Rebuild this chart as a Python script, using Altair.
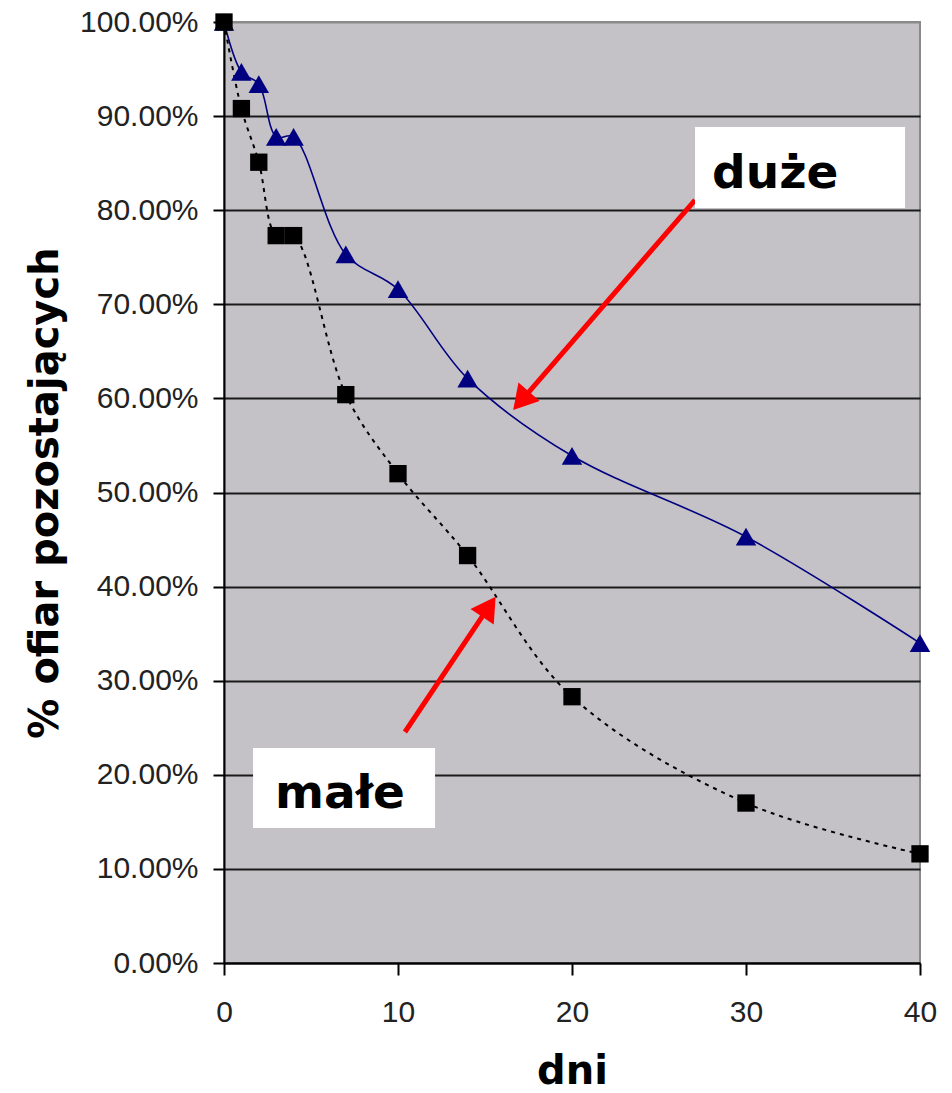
import math
import altair as alt
import pandas as pd

# ---- data ----
days = [0, 1, 2, 3, 4, 7, 10, 14, 20, 30, 40]
duze = [100, 94.7, 93.4, 87.8, 87.8, 75.3, 71.6, 62.1, 53.9, 45.3, 34.0]
male = [100, 90.8, 85.1, 77.3, 77.3, 60.4, 52.0, 43.3, 28.3, 17.0, 11.6]

y_ticks = [0, 10, 20, 30, 40, 50, 60, 70, 80, 90, 100]
x_ticks = [0, 10, 20, 30, 40]

# annotation labels (boxes in data units: x from/to, y from/to in %)
label_text = ["duże", "małe"]
box_x1 = [27.07, 1.67]
box_x2 = [39.14, 12.13]
box_y1 = [80.23, 14.35]
box_y2 = [88.84, 22.85]
text_x = [28.05, 2.93]
text_y = [82.36, 16.47]
# arrows (start -> tip) in data units
arrow_x1 = [27.07, 10.40]
arrow_y1 = [81.08, 24.55]
arrow_x2 = [16.55, 15.67]
arrow_y2 = [58.61, 39.10]

W, H = 696, 941
XMAX, YMAX = 40.0, 100.0
HEAD = 28  # arrow head side in px

df_d = pd.DataFrame({"dni": days, "val": [v / 100 for v in duze]})
df_m = pd.DataFrame({"dni": days, "val": [v / 100 for v in male]})

df_box = pd.DataFrame({
    "dni": box_x1, "dni2": box_x2,
    "val": [v / 100 for v in box_y1], "val2": [v / 100 for v in box_y2],
})
df_txt = pd.DataFrame({"dni": text_x, "val": [v / 100 for v in text_y], "t": label_text})

px_x = W / XMAX
px_y = H / YMAX
rows_line, rows_head = [], []
for x1, y1, x2, y2 in zip(arrow_x1, arrow_y1, arrow_x2, arrow_y2):
    dxp = (x2 - x1) * px_x
    dyp = -(y2 - y1) * px_y
    n = math.hypot(dxp, dyp)
    ux, uy = dxp / n, dyp / n
    ang = math.degrees(math.atan2(ux, -uy)) % 360
    r = HEAD / 2
    cx = x2 - r * ux / px_x
    cy = y2 + r * uy / px_y
    rows_line.append({"dni": x1, "val": y1 / 100, "dni2": cx, "val2": cy / 100})
    rows_head.append({"dni": cx, "val": cy / 100, "ang": ang})
df_al = pd.DataFrame(rows_line)
df_ah = pd.DataFrame(rows_head)

x_enc = alt.X(
    "dni:Q",
    scale=alt.Scale(domain=[0, 40], nice=False, zero=False),
    axis=alt.Axis(values=x_ticks, title="dni", grid=False, format="d", labelFlush=False,
                  tickSize=12, labelPadding=22, titlePadding=24),
)
y_enc = alt.Y(
    "val:Q",
    scale=alt.Scale(domain=[0, 1], nice=False),
    axis=alt.Axis(values=[v / 100 for v in y_ticks], format=".2%", labelFlush=False,
                  title="% ofiar pozostających", grid=True,
                  gridColor={"condition": {"test": "datum.value >= 1", "value": "#8a8a8a"},
                             "value": "#1a1a1a"},
                  gridWidth=2, tickSize=11, labelPadding=15, titlePadding=14),
)

line_d = alt.Chart(df_d).mark_line(color="#000080", strokeWidth=1.6,
                                   interpolate="catmull-rom").encode(x=x_enc, y=y_enc)
line_m = alt.Chart(df_m).mark_line(color="#000000", strokeWidth=2, strokeDash=[4, 5],
                                   interpolate="catmull-rom").encode(x=x_enc, y=y_enc)
pts_d = alt.Chart(df_d).mark_point(shape="triangle-up", filled=True, opacity=1,
                                   color="#000080", size=420).encode(x=x_enc, y=y_enc)
pts_m = alt.Chart(df_m).mark_point(shape="square", filled=True, opacity=1,
                                   color="#000000", size=300).encode(x=x_enc, y=y_enc)

arr_line = alt.Chart(df_al).mark_rule(color="#ff0000", strokeWidth=5).encode(
    x=x_enc, y=y_enc, x2="dni2:Q", y2="val2:Q")
arr_head = alt.Chart(df_ah).mark_point(shape="triangle-up", filled=True, opacity=1,
                                       color="#ff0000", size=HEAD * HEAD).encode(
    x=x_enc, y=y_enc, angle=alt.Angle("ang:Q", scale=None))

boxes = alt.Chart(df_box).mark_rect(color="white", opacity=1).encode(
    x=x_enc, y=y_enc, x2="dni2:Q", y2="val2:Q")
texts = alt.Chart(df_txt).mark_text(font="DejaVu Sans", fontWeight="bold", fontSize=47,
                                    align="left", baseline="alphabetic",
                                    color="black").encode(x=x_enc, y=y_enc, text="t:N")

chart = alt.layer(line_d, line_m, pts_d, pts_m, arr_line, arr_head, boxes, texts).properties(
    width=W, height=H,
    autosize=alt.AutoSizeParams(type="none"),
    padding={"left": 224, "top": 22, "right": 32, "bottom": 130},
    background="white",
).configure_view(
    fill="#C4C2C6", stroke="#8a8a8a", strokeWidth=2,
).configure_axis(
    labelFont="Liberation Sans", labelFontSize=30, labelColor="#222222",
    titleFont="DejaVu Sans", titleFontSize=40, titleFontWeight="bold", titleColor="black",
    tickColor="black", tickWidth=2, domainColor="black", domainWidth=2,
)

chart.save("out.html", embed_options={"renderer": "svg", "actions": False})
